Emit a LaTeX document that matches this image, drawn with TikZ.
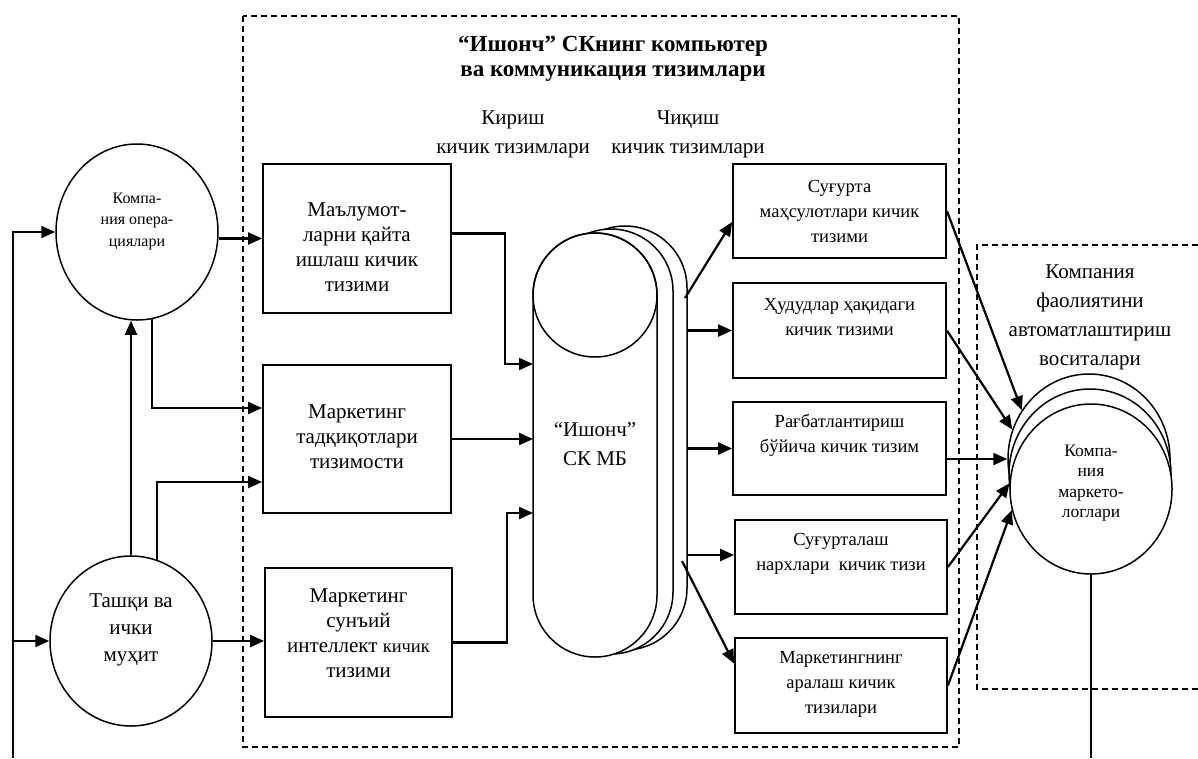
\documentclass[tikz,border=0pt]{standalone}
\usepackage{fontspec}
\setmainfont{Liberation Serif}
\usetikzlibrary{arrows.meta,calc,shapes.geometric}
\begin{document}
\begin{tikzpicture}[x=1pt,y=-1pt,
  box/.style={draw,line width=1.8pt,inner sep=0pt},
  txt/.style={align=center,font=\fontsize{21}{25}\selectfont,inner sep=0pt},
  stxt/.style={align=center,font=\fontsize{18.5}{25}\selectfont,inner sep=0pt},
  ctxt/.style={align=center,font=\fontsize{16}{21.5}\selectfont,inner sep=0pt},
  oval/.style={draw,ellipse,line width=1.5pt,inner sep=0pt,fill=white},
  cylpart/.style={draw,fill=white,line width=1.5pt,rounded corners=62pt},
  arr/.style={line width=2.2pt,-{Triangle[length=14pt,width=12pt]}},
  ln/.style={line width=2.2pt},
  dsh/.style={line width=1.4pt,dash pattern=on 6pt off 4pt}]
\useasboundingbox (0,0) rectangle (1198,758);
% dashed frames
\draw[dsh] (243,16) rectangle (959,747);
\draw[dsh] (1198,245) -- (977,245) -- (977,689) -- (1198,689);
% header texts
\node[txt,font=\fontsize{23}{25}\selectfont\bfseries] (title) at (613,59) {“Ишонч” СКнинг компьютер\\ва коммуникация тизимлари};
\node[txt,font=\fontsize{21}{29}\selectfont] (kir) at (513,134) {Кириш\\кичик тизимлари};
\node[txt,font=\fontsize{21}{29}\selectfont] (chiq) at (688,134) {Чиқиш\\кичик тизимлари};
\node[txt,font=\fontsize{21}{29}\selectfont] (auto) at (1090,317) {Компания\\фаолиятини\\автоматлаштириш\\воситалари};
% left circles
\node[oval,minimum width=162pt,minimum height=176pt] (C1) at (137,232) {};
\node[ctxt] (C1t) at (137,221) {Компа-\\ния опера-\\циялари};
\node[oval,minimum width=162pt,minimum height=170pt] (C2) at (131,641) {};
\node[txt,font=\fontsize{21}{27}\selectfont] (C2t) at (131,630) {Ташқи ва\\ички\\муҳит};
% left boxes
\node[box,minimum width=188pt,minimum height=149pt] (B1) at (357,238.5) {};
\node[txt] (B1t) at (357,247) {Маълумот-\\ларни қайта\\ишлаш кичик\\тизими};
\node[box,minimum width=188pt,minimum height=148pt] (B2) at (357,439) {};
\node[txt] (B2t) at (357,437) {Маркетинг\\тадқиқотлари\\тизимости};
\node[box,minimum width=187pt,minimum height=149pt] (B3) at (358.5,642.5) {};
\node[txt] (B3t) at (358.5,633) {Маркетинг\\сунъий\\интеллект {\fontsize{18.5}{25}\selectfont кичик}\\тизими};
% cylinder
\draw[cylpart] (563,226) rectangle (687,650);
\draw[cylpart] (549,229) rectangle (673,654);
\draw[cylpart] (533,233) rectangle (657,657);
\draw[line width=1.5pt] (595,295) circle (62pt);
\node[txt,font=\fontsize{21}{29}\selectfont] (cylt) at (595,444) {“Ишонч”\\СК МБ};
\coordinate (cin1) at (533,364);
\coordinate (cin2) at (533,439);
\coordinate (cin3) at (533,513);
\coordinate (cout1) at (685,298);
\coordinate (cout2) at (687,330.5);
\coordinate (cout3) at (687,448.5);
\coordinate (cout4) at (687,555);
\coordinate (cout5) at (682,561);
% right boxes
\node[box,minimum width=213pt,minimum height=94pt] (R1) at (839.5,211) {};
\node[stxt] (R1t) at (839.5,211) {Суғурта\\маҳсулотлари кичик\\тизими};
\node[box,minimum width=213pt,minimum height=95pt] (R2) at (839.5,330.5) {};
\node[stxt] (R2t) at (839.5,317) {Ҳудудлар ҳақидаги\\кичик тизими};
\node[box,minimum width=213pt,minimum height=93pt] (R3) at (839.5,448.5) {};
\node[stxt] (R3t) at (839.5,435) {Рағбатлантириш\\бўйича кичик тизим};
\node[box,minimum width=212pt,minimum height=94pt] (R4) at (841,567) {};
\node[stxt] (R4t) at (841,554) {Суғурталаш\\нархлари\ \ кичик тизи};
\node[box,minimum width=212pt,minimum height=95pt] (R5) at (841,685.5) {};
\node[stxt] (R5t) at (841,684) {Маркетингнинг\\аралаш кичик\\тизилари};
% company marketers circles
\node[oval,minimum width=162pt,minimum height=170pt] (mcA) at (1089,459) {};
\node[oval,minimum width=162pt,minimum height=170pt] (mcB) at (1090,474) {};
\node[oval,minimum width=162pt,minimum height=170pt] (mcC) at (1091,489) {};
\node[ctxt,font=\fontsize{17.5}{20.5}\selectfont] (mct) at (1091,483) {Компа-\\ния\\маркето-\\логлари};
% free ends
\coordinate (Lbot) at (13,758);
% connectors left
\draw[arr] (Lbot) |- (C1.west);
\draw[arr] (Lbot |- C2.west) -- (C2.west);
\draw[arr] (C1.east |- B1.west) -- (B1.west);
\draw[arr] (C1.-80) |- ($(B2.west)+(0,-31)$);
\draw[arr] (C2.72) |- ($(B2.west)+(0,43)$);
\draw[arr] (C2.north) -- (C2.north |- C1.south);
\draw[arr] (C2.east) -- (C2.east -| B3.west);
% boxes to cylinder
\draw[arr] ($(B1.east)+(0,-5)$) -| ($(cin1)+(-28,0)$) -- (cin1);
\draw[arr] (B2.east) -- (cin2);
\draw[arr] (B3.east) -| ($(cin3)+(-26,0)$) -- (cin3);
% cylinder to right boxes
\draw[arr] (cout1) -- ($(R1.west)+(0,11)$);
\draw[arr] (cout2) -- (R2.west);
\draw[arr] (cout3) -- (R3.west);
\draw[arr] (cout4) -- ($(R4.west)+(0,-12)$);
\draw[arr] (cout5) -- ($(R5.west)+(0,-22)$);
% right boxes to marketers
\draw[arr] (R1.east) -- (mcA.144);
\draw[arr] (R2.east) -- (mcA.159);
\draw[arr] ($(R3.east)+(0,10.5)$) -- (mcA.west);
\draw[arr] (R4.east) -- (mcC.176);
\draw[arr] (R5.east) -- (mcC.195);
\draw[ln] (mcC.south) -- (mcC.south |- Lbot);
\end{tikzpicture}
\end{document}
